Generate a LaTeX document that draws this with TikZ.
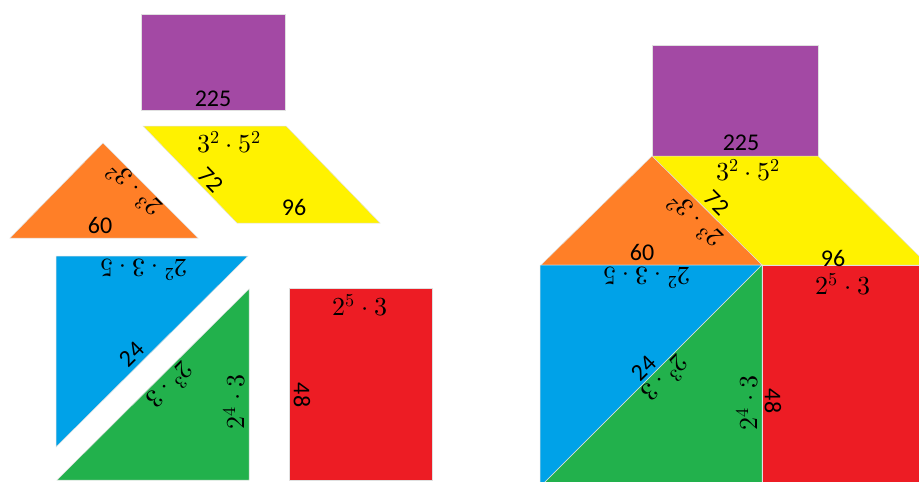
\documentclass[tikz,border=0pt]{standalone}
\usepackage{unicode-math}
\setmainfont{Carlito}
\setmathfont{Latin Modern Math}
\definecolor{tpurple}{HTML}{A349A4}
\definecolor{tyellow}{HTML}{FFF200}
\definecolor{torange}{HTML}{FF7F27}
\definecolor{tblue}{HTML}{00A2E8}
\definecolor{tgreen}{HTML}{22B14C}
\definecolor{tred}{HTML}{ED1C24}

\begin{document}
\begin{tikzpicture}[x=1pt,y=-1pt,piece/.style={draw=black!12,line width=0.5pt},lbl/.style={inner sep=0pt,font=\fontsize{24}{28}\selectfont},mlbl/.style={lbl,font=\fontsize{26}{30}\selectfont}]
\clip (0,0) rectangle (919,482);
% loose pieces
\path[piece,fill=tpurple] (141,14) rectangle (285,110);
\path[piece,fill=tyellow] (143,126)--(286,126)--(380,223)--(237,223)--cycle;
\path[piece,fill=torange] (103,143)--(198,238)--(10,238)--cycle;
\path[piece,fill=tblue] (56,256)--(248,256)--(56,447)--cycle;
\path[piece,fill=tgreen] (249,289)--(249,480)--(57,480)--cycle;
\path[piece,fill=tred] (289,288) rectangle (432,480);
\node[lbl](lp) at (213,99){225};
\node[mlbl](ly1) at (229,142){$3^2\cdot5^2$};
\node[lbl,rotate=-46](ly2) at (211,180){72};
\node[lbl](ly3) at (294,207){96};
\node[lbl](lo1) at (100,225){60};
\node[mlbl,rotate=135](lo2) at (134,190){$2^3\cdot3^2$};
\node[mlbl,rotate=180](lb1) at (144,270){$2^2\cdot3\cdot5$};
\node[lbl,rotate=45](lb2) at (132,354){24};
\node[mlbl,rotate=-135](lg1) at (171,386){$2^3\cdot3$};
\node[mlbl,rotate=90](lg2) at (234,402){$2^4\cdot3$};
\node[mlbl](lr1) at (360,305){$2^5\cdot3$};
\node[lbl,rotate=-90](lr2) at (302,395){48};
% assembled
\path[piece,fill=tpurple] (652,45) rectangle (818,156);
\path[piece,fill=tyellow] (652,156)--(818,156)--(928,265)--(762,265)--cycle;
\path[piece,fill=torange] (652,156)--(762,265)--(541,265)--cycle;
\path[piece,fill=tblue] (540,265)--(762,265)--(540,487)--cycle;
\path[piece,fill=tgreen] (762,265)--(762,487)--(540,487)--cycle;
\path[piece,fill=tred] (762,265) rectangle (930,490);
\node[lbl](rp) at (741,143){225};
\node[mlbl](ry1) at (748,170){$3^2\cdot5^2$};
\node[lbl,rotate=-45](ry2) at (717,203){72};
\node[lbl](ry3) at (833,258){96};
\node[lbl](ro1) at (642,252){60};
\node[mlbl,rotate=135](ro2) at (695,221){$2^3\cdot3^2$};
\node[mlbl,rotate=180](rb1) at (647,278){$2^2\cdot3\cdot5$};
\node[lbl,rotate=45](rb2) at (644,368){24};
\node[mlbl,rotate=-135](rg1) at (666,379){$2^3\cdot3$};
\node[mlbl,rotate=90](rg2) at (747,403){$2^4\cdot3$};
\node[mlbl](rr1) at (843,284){$2^5\cdot3$};
\node[lbl,rotate=-90](rr2) at (773,401){48};
\end{tikzpicture}
\end{document}
